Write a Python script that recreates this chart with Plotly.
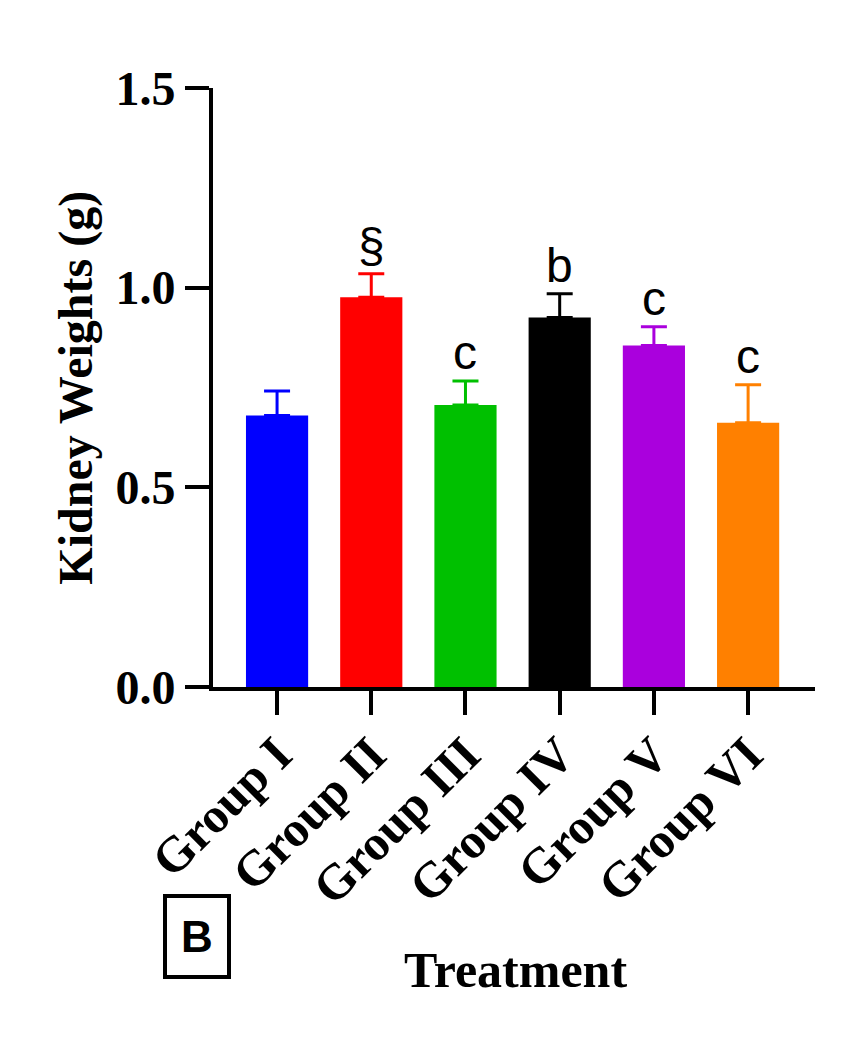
import plotly.graph_objects as go

groups = ["Group I", "Group II", "Group III", "Group IV", "Group V", "Group VI"]
means = [0.68, 0.976, 0.706, 0.925, 0.855, 0.662]
sem = [0.061, 0.059, 0.060, 0.060, 0.047, 0.095]
letters = ["", "§", "c", "b", "c", "c"]
colors = ["#0000ff", "#ff0000", "#00c000", "#000000", "#aa00dd", "#ff8000"]

serif = "Liberation Serif"
sans = "Liberation Sans"

fig = go.Figure()
for i, g in enumerate(groups):
    fig.add_trace(go.Bar(
        x=[g], y=[means[i]],
        marker=dict(color=colors[i], line=dict(width=0)),
        width=0.66,
        error_y=dict(type="data", symmetric=False, array=[sem[i]], arrayminus=[0],
                     color=colors[i], thickness=3, width=13),
        showlegend=False,
    ))
    if letters[i]:
        fig.add_annotation(x=g, y=means[i] + sem[i], text=letters[i], showarrow=False,
                           yanchor="bottom", yshift=0,
                           font=dict(family=sans, size=48, color="black"))

# panel label
fig.add_annotation(xref="paper", yref="paper", x=-0.027, y=-0.417, text="B",
                   showarrow=False, xanchor="center", yanchor="middle",
                   font=dict(family=sans, size=44, color="black", weight="bold"),
                   bordercolor="black", borderwidth=4, borderpad=14, bgcolor="white")

# axis titles
fig.add_annotation(xref="paper", yref="paper", x=0.502, y=-0.472, text="Treatment",
                   showarrow=False, xanchor="center", yanchor="middle",
                   font=dict(family=serif, size=50, color="black", weight="bold"))
fig.add_annotation(xref="paper", yref="paper", x=-0.229, y=0.5, text="Kidney Weights (g)",
                   showarrow=False, xanchor="center", yanchor="middle", textangle=-90,
                   font=dict(family=serif, size=48, color="black", weight="bold"))

fig.update_layout(
    width=828, height=1025,
    margin=dict(l=205, r=21, t=80, b=346),
    plot_bgcolor="white", paper_bgcolor="white",
    xaxis=dict(
        range=[-0.68, 5.71], showline=True, linecolor="black", linewidth=4,
        ticks="outside", ticklen=24, tickwidth=4, tickcolor="black",
        tickangle=-45, showgrid=False, zeroline=False, ticklabelstandoff=-10,
        tickfont=dict(family=serif, size=50, color="black", weight="bold"),
    ),
    yaxis=dict(
        range=[0, 1.5], tickvals=[0, 0.5, 1.0, 1.5], ticktext=["0.0", "0.5", "1.0", "1.5"],
        showline=True, linecolor="black", linewidth=4,
        ticks="outside", ticklen=24, tickwidth=4, tickcolor="black",
        showgrid=False, zeroline=False,
        tickfont=dict(family=serif, size=48, color="black", weight="bold"),
    ),
)

fig.write_html("out.html")
